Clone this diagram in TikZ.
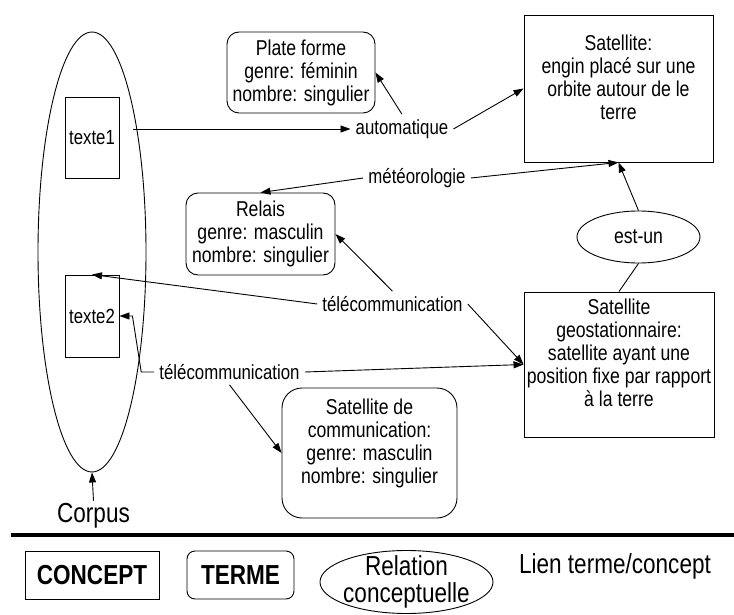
\documentclass[tikz,border=0pt]{standalone}
\usepackage{fontspec}
\setmainfont[FakeStretch=0.82]{Liberation Sans}
\usetikzlibrary{shapes.geometric, arrows.meta}
\tikzstyle{conceptbox} = [rectangle, draw, line width=0.9pt, align=center, inner sep=0pt, font=\fontsize{21.5}{23}\selectfont]
\tikzstyle{termebox} = [rectangle, rounded corners=12pt, draw, line width=0.9pt, align=center, inner sep=0pt, font=\fontsize{21.5}{23}\selectfont]
\tikzstyle{relationshape} = [ellipse, draw, line width=0.9pt, inner sep=0pt, font=\fontsize{21.5}{23}\selectfont]
\tikzstyle{textebox} = [rectangle, draw, line width=0.9pt, inner sep=0pt, font=\fontsize{20.5}{23}\selectfont]
\tikzstyle{lienlabel} = [inner sep=5pt, font=\fontsize{20.5}{23}\selectfont]
\tikzstyle{legendtext} = [inner sep=2pt, font=\fontsize{27.5}{27}\selectfont]
\tikzstyle{arrow} = [line width=0.9pt, -{Triangle[length=10pt,width=7pt]}]
\tikzstyle{link} = [line width=0.9pt]

\begin{document}
\begin{tikzpicture}[x=1pt, y=-1pt]
\useasboundingbox (0,0) rectangle (734,615);

% Corpus
\node (corpus) [relationshape, minimum width=108pt, minimum height=440pt] at (92,252) {};
\node (texte1) [textebox, minimum width=54pt, minimum height=81pt] at (92,137.5) {texte1};
\node (texte2) [textebox, minimum width=54pt, minimum height=82pt] at (92,316) {texte2};
\node (corpuslabel) [legendtext] at (93.5,515.5) {Corpus};

% Termes
\node (plateforme) [termebox, minimum width=148pt, minimum height=81pt] at (301,72.5) {Plate forme\\genre: féminin\\nombre: singulier};
\node (relais) [termebox, minimum width=149pt, minimum height=82pt] at (260.5,234) {Relais\\genre: masculin\\nombre: singulier};
\node (satcomm) [termebox, rounded corners=20pt, minimum width=175pt, minimum height=130pt] at (369.5,453) {Satellite de\\communication:\\genre: masculin\\nombre: singulier\\~};

% Concepts
\node (satellite) [conceptbox, minimum width=189pt, minimum height=147pt] at (618.5,88.5) {Satellite:\\engin placé sur une\\orbite autour de le\\terre\\~};
\node (satgeo) [conceptbox, minimum width=190pt, minimum height=145pt] at (619,364.5) {Satellite\\geostationnaire:\\satellite ayant une\\position fixe par rapport\\à la terre\\~};
\node (estun) [relationshape, minimum width=123pt, minimum height=52pt] at (638.5,237) {est-un};

% Liens terme/concept
\node (automatique) [lienlabel] at (402,129) {automatique};
\node (meteo) [lienlabel] at (417,178) {météorologie};
\node (telecomA) [lienlabel] at (392.5,304) {télécommunication};
\node (telecomB) [lienlabel] at (229.5,372) {télécommunication};

% Flèches
\draw [arrow] ([xshift=14pt]texte1.east |- automatique) -- (automatique);
\draw [arrow] (automatique.north) -- (plateforme.east);
\draw [arrow] (automatique.east) -- (satellite.west);
\draw [arrow] (meteo.east) -- (satellite.south);
\draw [arrow] (meteo.west) -- (relais.north);
\draw [link] (satgeo.north) -- (estun.south);
\draw [arrow] (estun.north) -- (satellite.south);
\draw [arrow] (telecomA.west) -- (texte2.north);
\draw [arrow] (telecomA.north) -- (relais.east);
\draw [arrow] (telecomA.east) -- (satgeo.west);
\draw [arrow] (telecomB.east) -- (satgeo.west);
\draw [arrow] (telecomB.south) -- (satcomm.west);
\draw [arrow] (telecomB.west) -- ++(-13,0) -- ([xshift=13pt]texte2.east) -- (texte2.east);
\draw [arrow] (corpuslabel.north) -- (corpus.south);

% Légende
\coordinate (ruleL) at (11,535);
\coordinate (ruleR) at (734,535);
\draw [line width=4pt] (ruleL) -- (ruleR);
\node (legconcept) [conceptbox, font=\fontsize{27.5}{27}\selectfont\bfseries, minimum width=134pt, minimum height=48pt] at (92,575) {CONCEPT};
\node (legterme) [termebox, rounded corners=8pt, font=\fontsize{27.5}{27}\selectfont\bfseries, minimum width=107pt, minimum height=48pt] at (240.5,575) {TERME};
\node (legrelation) [relationshape, minimum width=173pt, minimum height=63pt, label={[legendtext, align=center]center:{Relation\\conceptuelle}}] at (406.5,582) {};
\node (leglien) [legendtext] at (615,566) {Lien terme/concept};

\end{tikzpicture}
\end{document}
